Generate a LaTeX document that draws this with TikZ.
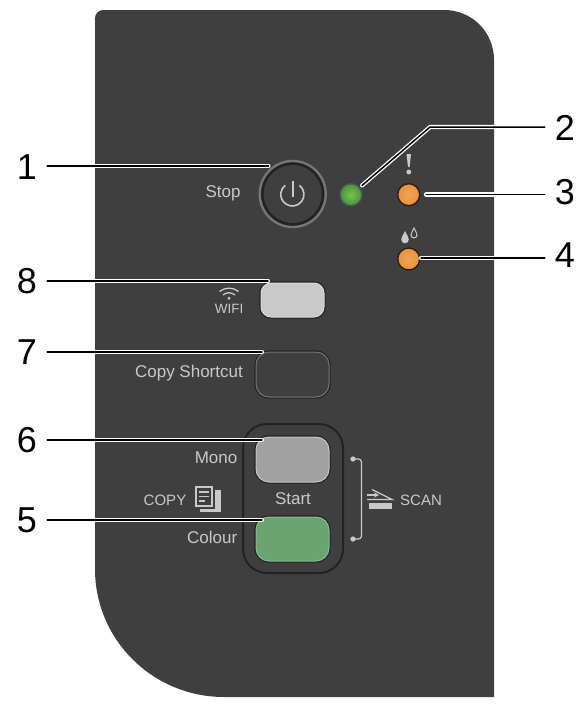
\documentclass[tikz,border=0pt]{standalone}
\usepackage{fontspec}
\setmainfont{Liberation Sans}
\definecolor{panel}{HTML}{3F3F3F}
\definecolor{ink}{HTML}{C9C9C9}
\definecolor{rim}{HTML}{222222}
\definecolor{soft}{HTML}{767676}
\definecolor{orangeA}{HTML}{F29223}
\definecolor{orangeB}{HTML}{E9A468}
\definecolor{greenA}{HTML}{3A9A3E}
\definecolor{greenB}{HTML}{86BC4C}
\usetikzlibrary{arrows.meta}
\tikzset{
  num/.style={font=\fontsize{36}{36}\selectfont,text=black,inner ysep=1pt,inner xsep=10pt},
  lab/.style={font=\fontsize{17}{18}\selectfont,text=ink,inner sep=0pt},
  smalllab/.style={font=\fontsize{15}{16}\selectfont,text=ink,inner sep=0pt},
  leader/.style={draw=white,double=black,line width=1.3pt,double distance=1.5pt,line cap=round,line join=miter},
  keybtn/.style={rectangle,rounded corners=13pt,minimum width=#1,minimum height=44pt,inner sep=0pt,
     preaction={draw=rim,line width=3.4pt}},
  keybtn/.default=73pt,
  led/.style={circle,minimum size=22pt,inner sep=0pt,draw=#1,line width=1.4pt},
  iconline/.style={draw=ink,line width=1.3pt},
}
\begin{document}
\begin{tikzpicture}[x=1pt,y=-1pt]
\useasboundingbox (0,0) rectangle (585,704);
% panel
\fill[panel] (95,569) -- (95,18) .. controls (95,13.6) and (99,10) .. (103,10)
  -- (444,10) .. controls (472,10) and (494,32) .. (494,60)
  -- (494,697) -- (224,697) .. controls (153,697) and (95,640) .. (95,569) -- cycle;
% start group
\node[rectangle,rounded corners=24pt,draw=rim,line width=2pt,fill=panel,minimum width=100pt,minimum height=149pt,inner sep=0pt] (group) at (293,498.5) {};
% stop
\node[circle,draw=soft,line width=2.4pt,fill=rim,minimum size=66pt,inner sep=0pt] (stopring) at (292.7,194) {};
\node[circle,fill=panel,minimum size=58pt,inner sep=0pt] (stop) at (292.7,194) {};
\draw[draw=ink,line width=1.6pt] (299.5,185.3) arc[start angle=52,end angle=-232,radius=11.6pt];
\draw[draw=ink,line width=1.6pt] (292.7,181) -- (292.7,197);
\node[lab] (stoplab) at (223,193) {Stop};
% LEDs
\node[led=soft!70!black,inner color=greenB,outer color=greenA] (green) at (351,194.7) {};
\node[led=rim,inner color=orangeB,outer color=orangeA] (o3) at (408.7,194.7) {};
\node[led=rim,inner color=orangeB,outer color=orangeA] (o4) at (408.7,259) {};
% exclamation
\fill[ink] (406.5,154) -- (411,154) -- (409.6,167) -- (408,167) -- cycle;
\fill[ink] (408.8,172) circle[radius=2.4pt];
% drops
\fill[ink] (405,231) .. controls (403,235.5) and (401.2,237) .. (401.2,239.5) .. controls (401.2,244.5) and (408.8,244.5) .. (408.8,239.5) .. controls (408.8,237) and (407,235.5) .. (405,231) -- cycle;
\draw[draw=ink,line width=1pt] (414,228) .. controls (412.5,231.5) and (411,233) .. (411,235) .. controls (411,238.8) and (417,238.8) .. (417,235) .. controls (417,233) and (415.5,231.5) .. (414,228) -- cycle;
% wifi
\node[keybtn=63pt,minimum height=34pt,rounded corners=10pt,draw=white!85!black,line width=1pt,fill=ink] (wifi) at (292.5,300) {};
\draw[iconline] (219.5,291.5) .. controls (225,287) and (233,287) .. (238.5,291.5);
\draw[iconline] (223,295) .. controls (226.5,292) and (231.5,292) .. (235,295);
\fill[ink] (229,298.2) circle[radius=1.6pt];
\node[lab,font=\fontsize{13.5}{14}\selectfont] (wifilab) at (229,309) {WIFI};
% copy shortcut
\node[keybtn,minimum height=45pt,draw=soft,line width=1pt,fill=panel] (shortcut) at (292.5,374.5) {};
\node[lab,anchor=east] (shortcutlab) at (243,373) {Copy Shortcut};
% mono
\node[keybtn,minimum height=45pt,draw=white!78!black,line width=1pt,fill=white!63!black] (mono) at (292.5,459.5) {};
\node[lab,anchor=east] (monolab) at (237.5,458) {Mono};
% colour
\node[keybtn,minimum height=44pt,draw=green!30!white!75!black,line width=1pt,fill={rgb,255:red,106;green,165;blue,113}] (colour) at (292.5,539) {};
\node[lab,anchor=east] (colourlab) at (237.5,537) {Colour};
\node[lab] (startlab) at (293,499) {Start};
% copy label + icon
\node[smalllab] (copylab) at (165,500) {COPY};
\fill[ink] (200,490) rectangle (221,512);
\fill[panel] (193.5,484.5) rectangle (214.5,508.5);
\fill[ink] (195,486) rectangle (213,507);
\fill[panel] (197,488) rectangle (211,505);
\draw[draw=ink,line width=1.4pt] (199,492) -- (209,492) (199,496.5) -- (209,496.5) (199,501) -- (205,501);
% scan bracket
\coordinate (bt) at (353,459);
\coordinate (bb) at (353,539);
\fill[ink] (bt) circle[radius=2.6pt] (bb) circle[radius=2.6pt];
\draw[draw=ink,line width=1.2pt,rounded corners=3pt] (bt) -- (361.5,459) -- (361.5,539) -- (bb);
% scan icon
\draw[draw=ink,line width=1.2pt] (372,489.5) -- (392,499.5) -- (367,499.5);
\draw[draw=ink,line width=1.1pt,-{Stealth[length=5pt,width=5pt]}] (366.5,495) -- (379,495);
\fill[ink] (369,503) rectangle (392,508.5);
\node[smalllab] (scanlab) at (421,500) {SCAN};
% numbers
\node[num] (n1) at (27,167) {1};
\node[num] (n2) at (565,127.5) {2};
\node[num] (n3) at (565,192) {3};
\node[num] (n4) at (565,255.5) {4};
\node[num] (n5) at (27,520) {5};
\node[num] (n6) at (27,440.5) {6};
\node[num] (n7) at (27,352) {7};
\node[num] (n8) at (27,281) {8};
% leader tips
\coordinate (t1) at (268.5,166);
\coordinate (t2) at (362,185.5);
\coordinate (k2) at (430,127);
\coordinate (t3) at (426,194.5);
\coordinate (t4) at (421,258);
\coordinate (t5) at (262,520);
\coordinate (t6) at (262,440);
\coordinate (t7) at (262,352);
\coordinate (t8) at (268,281);
\draw[leader] (n1.east |- t1) -- (t1);
\draw[leader] (n2.west |- k2) -- (k2) -- (t2);
\draw[leader] (n3.west |- t3) -- (t3);
\draw[leader] (n4.west |- t4) -- (t4);
\draw[leader] (n5.east |- t5) -- (t5);
\draw[leader] (n6.east |- t6) -- (t6);
\draw[leader] (n7.east |- t7) -- (t7);
\draw[leader] (n8.east |- t8) -- (t8);
\end{tikzpicture}
\end{document}
